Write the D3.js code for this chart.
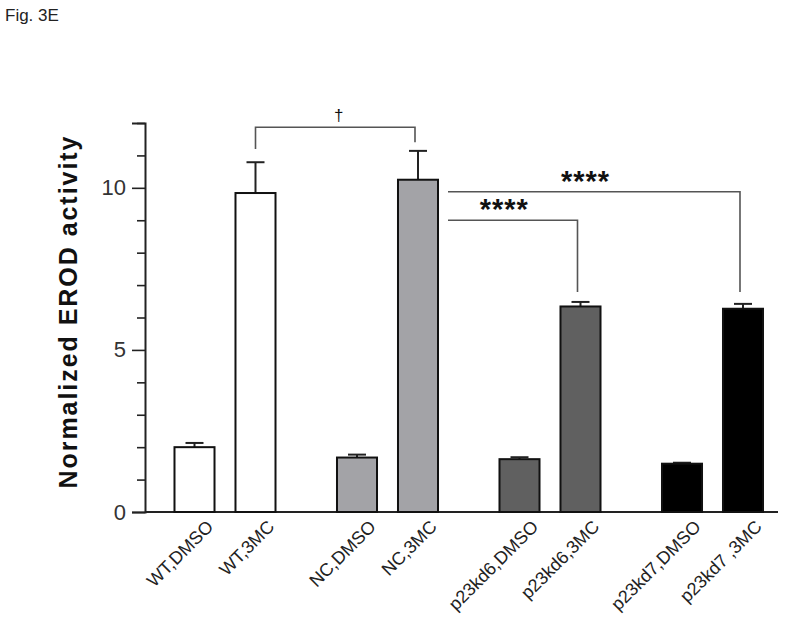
<!DOCTYPE html>
<html>
<head>
<meta charset="utf-8">
<script src="https://cdn.jsdelivr.net/npm/d3@7"></script>
<style>
  body { margin: 0; background: #fff; }
  svg { font-family: "Liberation Sans", Arial, sans-serif; }
</style>
</head>
<body>
<div class="chart"></div>
<script>
// values
const groups = ['WT', 'NC', 'p23kd6', 'p23kd7']
const treatments = ['DMSO', '3MC']
const labels = ['WT,DMSO', 'WT,3MC', 'NC,DMSO', 'NC,3MC', 'p23kd6,DMSO', 'p23kd6,3MC', 'p23kd7,DMSO', 'p23kd7 ,3MC']
const means = [2.0, 9.84, 1.68, 10.25, 1.63, 6.34, 1.49, 6.27]
const errors = [0.13, 0.95, 0.09, 0.89, 0.06, 0.14, 0.03, 0.15]
const fills = ['#ffffff', '#ffffff', '#a3a3a7', '#a3a3a7', '#606060', '#606060', '#000000', '#000000']
const majorTicks = [0, 5, 10]
const minorTicks = [1, 2, 3, 4, 6, 7, 8, 9, 11, 12]

// significance brackets: from bar, to bar, bracket level, leg ends, label
const brackets = [
  { from: 1, to: 3, level: 11.87, legFrom: 11.2, legTo: 11.41, label: '†' },
  { from: 3, to: 7, level: 9.88, legFrom: null, legTo: 6.79, label: '****' },
  { from: 3, to: 5, level: 9.0, legFrom: null, legTo: 6.79, label: '****' }
]

const width = 800
const height = 620

const svg = d3.select('.chart').append('svg')
  .attr('width', width)
  .attr('height', height)

svg.append('text')
  .attr('x', 5)
  .attr('y', 21)
  .style('font-size', '17px')
  .attr('fill', '#222')
  .text('Fig. 3E')

const y = d3.scaleLinear().domain([0, 12]).range([512, 123])

const x = d3.scaleBand().domain(groups).range([143.75, 793.75])
const xi = d3.scaleBand().domain(treatments).range([0, x.bandwidth()])
  .paddingInner(0.344).paddingOuter(0.504)

const bars = labels.map((label, i) => {
  const g = groups[Math.floor(i / 2)]
  const t = treatments[i % 2]
  return {
    label,
    value: means[i],
    err: errors[i],
    fill: fills[i],
    x0: x(g) + xi(t),
    cx: x(g) + xi(t) + xi.bandwidth() / 2
  }
})

// y axis
const yAxis = svg.append('g')
  .attr('transform', 'translate(145,0)')
  .call(d3.axisLeft(y).tickValues(majorTicks).tickSize(13).tickPadding(6).tickFormat(d3.format('d')))
yAxis.select('.domain').attr('stroke', '#222').attr('stroke-width', 2)
yAxis.selectAll('.tick line').attr('stroke', '#222').attr('stroke-width', 1.6)
yAxis.selectAll('.tick text')
  .style('font-size', '22px')
  .style('font-family', '"Liberation Sans", Arial, sans-serif')
  .attr('fill', '#333')

svg.append('g')
  .attr('transform', 'translate(145,0)')
  .call(d3.axisLeft(y).tickValues(minorTicks).tickSize(8).tickFormat(''))
  .call(g => g.select('.domain').remove())
  .selectAll('.tick line').attr('stroke', '#222').attr('stroke-width', 1.6)

svg.append('text')
  .attr('transform', `translate(77,${(135 + 490) / 2}) rotate(-90)`)
  .attr('text-anchor', 'middle')
  .style('font-size', '25px')
  .style('font-weight', 'bold')
  .attr('textLength', 352)
  .attr('lengthAdjust', 'spacing')
  .attr('fill', '#111')
  .text('Normalized EROD activity')

// baseline
svg.append('line')
  .attr('x1', 145).attr('x2', 778)
  .attr('y1', y(0)).attr('y2', y(0))
  .attr('stroke', '#222').attr('stroke-width', 2)

// error bars (upper only)
const eb = svg.append('g').attr('stroke', '#222').attr('stroke-width', 2)
eb.selectAll('.stem').data(bars).join('line')
  .attr('x1', d => d.cx).attr('x2', d => d.cx)
  .attr('y1', d => y(d.value)).attr('y2', d => y(d.value + d.err))
eb.selectAll('.cap').data(bars).join('line')
  .attr('x1', d => d.cx - 9).attr('x2', d => d.cx + 9)
  .attr('y1', d => y(d.value + d.err)).attr('y2', d => y(d.value + d.err))

// bars
svg.append('g').selectAll('rect').data(bars).join('rect')
  .attr('x', d => d.x0)
  .attr('width', xi.bandwidth())
  .attr('y', d => y(d.value))
  .attr('height', d => y(0) - y(d.value))
  .attr('fill', d => d.fill)
  .attr('stroke', '#111')
  .attr('stroke-width', 2)

// category labels
svg.append('g').selectAll('text').data(bars).join('text')
  .attr('transform', d => `translate(${d.cx + 11},${y(0) + 7}) rotate(-45)`)
  .attr('text-anchor', 'end')
  .attr('dy', '0.7em')
  .style('font-size', '18px')
  .attr('fill', '#222')
  .text(d => d.label)

// significance brackets
const sig = svg.append('g')
brackets.forEach(b => {
  const a = bars[b.from]
  const c = bars[b.to]
  const dagger = b.legFrom !== null
  const xa = dagger ? a.cx : a.x0 + xi.bandwidth() + 10
  const pts = []
  if (dagger) pts.push([xa, y(b.legFrom)])
  pts.push([xa, y(b.level)], [c.cx - 3, y(b.level)], [c.cx - 3, y(b.legTo)])
  sig.append('path')
    .attr('d', d3.line()(pts))
    .attr('fill', 'none')
    .attr('stroke', '#555')
    .attr('stroke-width', 1.6)
  sig.append('text')
    .attr('x', (xa + c.cx) / 2 + (dagger ? 2 : -10))
    .attr('y', y(b.level) + (dagger ? -6 : -1))
    .attr('text-anchor', 'middle')
    .style('font-size', dagger ? '17px' : '29px')
    .style('font-weight', dagger ? 'normal' : 'bold')
    .style('letter-spacing', dagger ? '0' : '1px')
    .attr('fill', '#111')
    .text(b.label)
})
</script>
</body>
</html>
